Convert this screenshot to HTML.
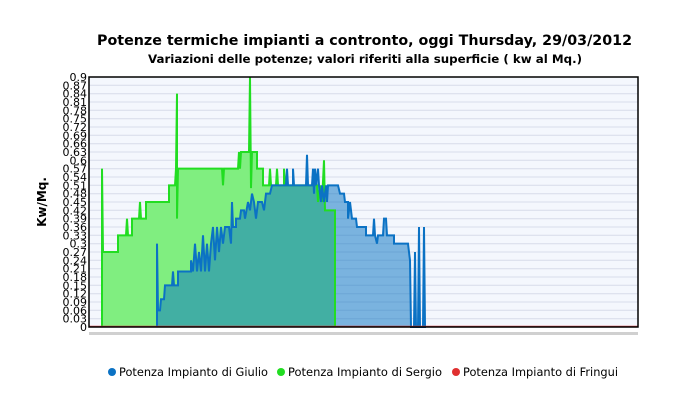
<!DOCTYPE html>
<html><head><style>
body{margin:0;background:#fff;}
svg text{font-family:"DejaVu Sans","Liberation Sans",sans-serif;}
</style></head><body>
<svg width="700" height="405" viewBox="0 0 700 405" xmlns="http://www.w3.org/2000/svg">
<rect width="700" height="405" fill="#fff"/>
<text x="97" y="45" font-size="14.5" font-weight="bold" fill="#000" textLength="535" lengthAdjust="spacingAndGlyphs">Potenze termiche impianti a contronto, oggi  Thursday, 29/03/2012</text>
<text x="148" y="63" font-size="11.5" font-weight="bold" fill="#000" textLength="434" lengthAdjust="spacingAndGlyphs">Variazioni delle potenze; valori riferiti alla superficie ( kw al Mq.)</text>
<text transform="translate(46,202) rotate(-90)" text-anchor="middle" font-size="12" font-weight="bold">Kw/Mq.</text>
<rect x="89" y="77" width="549" height="250" fill="#f4f7fd"/>
<g id="grid" stroke="#d7dcea" stroke-width="1">
<line x1="89" x2="638" y1="85.3" y2="85.3"/><line x1="89" x2="638" y1="93.7" y2="93.7"/><line x1="89" x2="638" y1="102" y2="102"/><line x1="89" x2="638" y1="110.3" y2="110.3"/><line x1="89" x2="638" y1="118.7" y2="118.7"/><line x1="89" x2="638" y1="127" y2="127"/><line x1="89" x2="638" y1="135.3" y2="135.3"/><line x1="89" x2="638" y1="143.7" y2="143.7"/><line x1="89" x2="638" y1="152" y2="152"/><line x1="89" x2="638" y1="160.3" y2="160.3"/><line x1="89" x2="638" y1="168.7" y2="168.7"/><line x1="89" x2="638" y1="177" y2="177"/><line x1="89" x2="638" y1="185.3" y2="185.3"/><line x1="89" x2="638" y1="193.7" y2="193.7"/><line x1="89" x2="638" y1="202" y2="202"/><line x1="89" x2="638" y1="210.3" y2="210.3"/><line x1="89" x2="638" y1="218.7" y2="218.7"/><line x1="89" x2="638" y1="227" y2="227"/><line x1="89" x2="638" y1="235.3" y2="235.3"/><line x1="89" x2="638" y1="243.7" y2="243.7"/><line x1="89" x2="638" y1="252" y2="252"/><line x1="89" x2="638" y1="260.3" y2="260.3"/><line x1="89" x2="638" y1="268.7" y2="268.7"/><line x1="89" x2="638" y1="277" y2="277"/><line x1="89" x2="638" y1="285.3" y2="285.3"/><line x1="89" x2="638" y1="293.7" y2="293.7"/><line x1="89" x2="638" y1="302" y2="302"/><line x1="89" x2="638" y1="310.3" y2="310.3"/><line x1="89" x2="638" y1="318.7" y2="318.7"/>
</g>
<g transform="translate(0,327) scale(1,-277.8)">
<polygon fill="#80ee80" points="102,0 102,0.57 103,0.27 118,0.27 118,0.33 126,0.33 127,0.39 128,0.33 132,0.33 132,0.39 139,0.39 140,0.45 141,0.39 146,0.39 146,0.45 169,0.45 169,0.51 175,0.51 176,0.57 177,0.84 177,0.39 178,0.57 222,0.57 223,0.51 224,0.57 238,0.57 239,0.63 240,0.57 241,0.63 249,0.63 250,0.9 251,0.5 252,0.63 257,0.63 257,0.57 263,0.57 263,0.51 269,0.51 270,0.57 271,0.51 276,0.51 277,0.57 278,0.51 284,0.51 284,0.57 285,0.51 317,0.51 318,0.45 320,0.51 322,0.45 324,0.6 325,0.42 335,0.42 335,0"/>
<polygon fill="#0a74c4" fill-opacity="0.52" points="157,0 157,0.3 158,0.06 160,0.06 161,0.1 164,0.1 165,0.15 172,0.15 173,0.2 174,0.15 178,0.15 178,0.2 191,0.2 191,0.24 193,0.2 195,0.3 197,0.2 199,0.27 201,0.2 203,0.33 205,0.2 207,0.3 209,0.2 211,0.3 213,0.36 215,0.24 217,0.36 219,0.27 221,0.36 223,0.3 225,0.36 229,0.36 231,0.3 232,0.45 233,0.36 236,0.36 236,0.39 240,0.39 241,0.42 244,0.42 245,0.39 248,0.45 250,0.42 252,0.48 254,0.45 256,0.39 258,0.45 262,0.45 264,0.42 266,0.48 270,0.48 272,0.51 286,0.51 287,0.57 288,0.51 293,0.51 293,0.57 294,0.51 306,0.51 307,0.62 308,0.51 312,0.51 313,0.57 314,0.48 315,0.57 316,0.51 318,0.57 319,0.51 321,0.45 322,0.51 324,0.45 326,0.51 327,0.45 328,0.51 338,0.51 340,0.48 344,0.48 345,0.45 348,0.45 348,0.39 350,0.45 352,0.39 356,0.39 357,0.36 366,0.36 366,0.33 373,0.33 374,0.39 375,0.33 377,0.3 378,0.33 383,0.33 384,0.39 386,0.39 387,0.33 394,0.33 394,0.3 408,0.3 410,0.24 411,0 414,0 415,0.27 416,0 418,0 419,0.36 420,0 423,0 424,0.36 425,0 426,0"/>
<polyline fill="none" stroke="#22dd22" stroke-width="2" vector-effect="non-scaling-stroke" points="102,0 102,0.57 103,0.27 118,0.27 118,0.33 126,0.33 127,0.39 128,0.33 132,0.33 132,0.39 139,0.39 140,0.45 141,0.39 146,0.39 146,0.45 169,0.45 169,0.51 175,0.51 176,0.57 177,0.84 177,0.39 178,0.57 222,0.57 223,0.51 224,0.57 238,0.57 239,0.63 240,0.57 241,0.63 249,0.63 250,0.9 251,0.5 252,0.63 257,0.63 257,0.57 263,0.57 263,0.51 269,0.51 270,0.57 271,0.51 276,0.51 277,0.57 278,0.51 284,0.51 284,0.57 285,0.51 317,0.51 318,0.45 320,0.51 322,0.45 324,0.6 325,0.42 335,0.42 335,0"/>
<polyline fill="none" stroke="#0b72c4" stroke-width="2" vector-effect="non-scaling-stroke" points="157,0 157,0.3 158,0.06 160,0.06 161,0.1 164,0.1 165,0.15 172,0.15 173,0.2 174,0.15 178,0.15 178,0.2 191,0.2 191,0.24 193,0.2 195,0.3 197,0.2 199,0.27 201,0.2 203,0.33 205,0.2 207,0.3 209,0.2 211,0.3 213,0.36 215,0.24 217,0.36 219,0.27 221,0.36 223,0.3 225,0.36 229,0.36 231,0.3 232,0.45 233,0.36 236,0.36 236,0.39 240,0.39 241,0.42 244,0.42 245,0.39 248,0.45 250,0.42 252,0.48 254,0.45 256,0.39 258,0.45 262,0.45 264,0.42 266,0.48 270,0.48 272,0.51 286,0.51 287,0.57 288,0.51 293,0.51 293,0.57 294,0.51 306,0.51 307,0.62 308,0.51 312,0.51 313,0.57 314,0.48 315,0.57 316,0.51 318,0.57 319,0.51 321,0.45 322,0.51 324,0.45 326,0.51 327,0.45 328,0.51 338,0.51 340,0.48 344,0.48 345,0.45 348,0.45 348,0.39 350,0.45 352,0.39 356,0.39 357,0.36 366,0.36 366,0.33 373,0.33 374,0.39 375,0.33 377,0.3 378,0.33 383,0.33 384,0.39 386,0.39 387,0.33 394,0.33 394,0.3 408,0.3 410,0.24 411,0 414,0 415,0.27 416,0 418,0 419,0.36 420,0 423,0 424,0.36 425,0 426,0"/>
</g>
<line x1="89" x2="638" y1="326.5" y2="326.5" stroke="#d04040" stroke-width="1.5"/>
<rect x="89" y="77" width="549" height="250" fill="none" stroke="#000" stroke-width="1.5"/>
<rect x="89" y="332" width="549" height="3" fill="#aaa" opacity="0.55"/>
<g font-size="11" text-anchor="end" fill="#000">
<text x="87" y="81">0.9</text><text x="87" y="89.3">0.87</text><text x="87" y="97.7">0.84</text><text x="87" y="106">0.81</text><text x="87" y="114.3">0.78</text><text x="87" y="122.7">0.75</text><text x="87" y="131">0.72</text><text x="87" y="139.3">0.69</text><text x="87" y="147.7">0.66</text><text x="87" y="156">0.63</text><text x="87" y="164.3">0.6</text><text x="87" y="172.7">0.57</text><text x="87" y="181">0.54</text><text x="87" y="189.3">0.51</text><text x="87" y="197.7">0.48</text><text x="87" y="206">0.45</text><text x="87" y="214.3">0.42</text><text x="87" y="222.7">0.39</text><text x="87" y="231">0.36</text><text x="87" y="239.3">0.33</text><text x="87" y="247.7">0.3</text><text x="87" y="256">0.27</text><text x="87" y="264.3">0.24</text><text x="87" y="272.7">0.21</text><text x="87" y="281">0.18</text><text x="87" y="289.3">0.15</text><text x="87" y="297.7">0.12</text><text x="87" y="306">0.09</text><text x="87" y="314.3">0.06</text><text x="87" y="322.7">0.03</text><text x="87" y="331">0</text>
</g>
<g font-size="11.5" fill="#000">
<circle cx="112" cy="372" r="4" fill="#0b72c4"/><text x="119" y="376" textLength="149" lengthAdjust="spacingAndGlyphs">Potenza Impianto di Giulio</text>
<circle cx="281" cy="372" r="4" fill="#22dd22"/><text x="288" y="376" textLength="154" lengthAdjust="spacingAndGlyphs">Potenza Impianto di Sergio</text>
<circle cx="456" cy="372" r="4" fill="#e03030"/><text x="463" y="376" textLength="155" lengthAdjust="spacingAndGlyphs">Potenza Impianto di Fringui</text>
</g>
</svg>
</body></html>
